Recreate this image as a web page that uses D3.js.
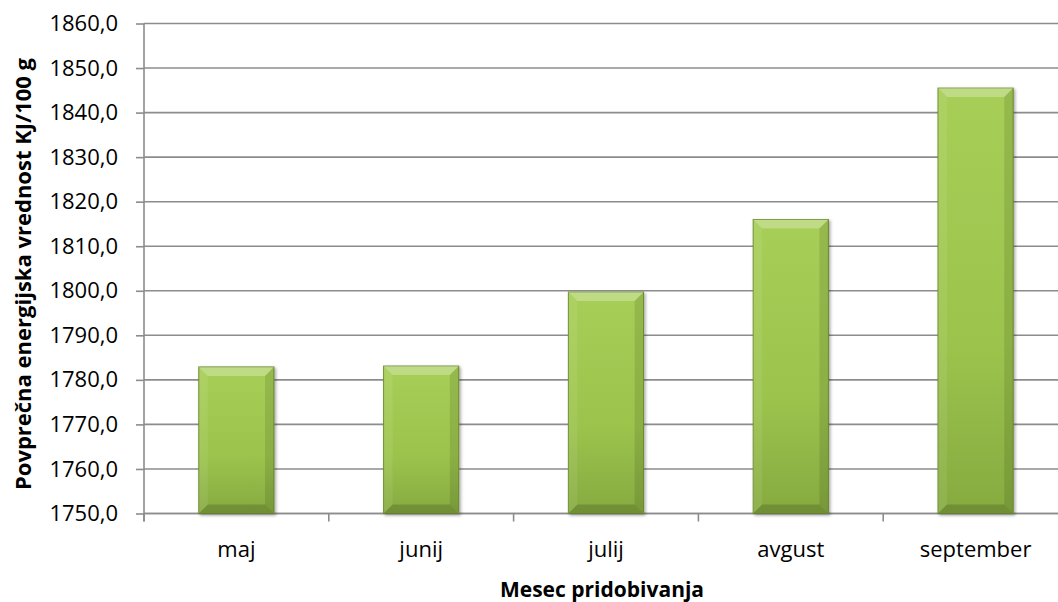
<!DOCTYPE html>
<html>
<head>
<meta charset="utf-8">
<script src="https://cdn.jsdelivr.net/npm/d3@7"></script>
<style>
  html, body { margin: 0; padding: 0; background: #ffffff; }
  svg { display: block; }
  text { font-family: "Open Sans", Lato, sans-serif; fill: #000; }
</style>
</head>
<body>
<svg id="chart" width="1058" height="602"></svg>
<script>
// Average energy value per harvest month
const months = ["maj", "junij", "julij", "avgust", "september"];
const energy = [1782.9, 1783.1, 1799.7, 1816.0, 1845.5];
const yTicks = [1750, 1760, 1770, 1780, 1790, 1800, 1810, 1820, 1830, 1840, 1850, 1860];
const yTitle = "Povprečna energijska vrednost KJ/100 g";
const xTitle = "Mesec pridobivanja";

const svg = d3.select("#chart");
const plot = { left: 144, right: 1068, top: 23.5, bottom: 513.5 };

const x = d3.scaleBand()
  .domain(months)
  .range([plot.left, plot.right])
  .paddingInner(0.593)
  .paddingOuter(0.2965);

const y = d3.scaleLinear()
  .domain([1750, 1860])
  .range([plot.bottom, plot.top]);

const fmt = v => d3.format(".1f")(v).replace(".", ",");

// defs: bar gradient and shadow
const defs = svg.append("defs");
const g1 = defs.append("linearGradient").attr("id", "barFill")
  .attr("x1", 0).attr("y1", 0).attr("x2", 0).attr("y2", 1);
g1.append("stop").attr("offset", "0%").attr("stop-color", "#a7ce56");
g1.append("stop").attr("offset", "60%").attr("stop-color", "#9cc44d");
g1.append("stop").attr("offset", "100%").attr("stop-color", "#86aa40");

const sh = defs.append("filter").attr("id", "shadow")
  .attr("x", "-20%").attr("y", "-20%").attr("width", "140%").attr("height", "140%");
sh.append("feDropShadow").attr("dx", 1.5).attr("dy", 1.5).attr("stdDeviation", 1.5)
  .attr("flood-color", "#000").attr("flood-opacity", 0.35);

// horizontal gridlines
svg.append("g")
  .selectAll("line")
  .data(yTicks)
  .join("line")
  .attr("x1", plot.left).attr("x2", plot.right)
  .attr("y1", d => y(d)).attr("y2", d => y(d))
  .attr("stroke", "#8c8c8c").attr("stroke-width", 1.6);

// y axis
const yAxis = svg.append("g")
  .attr("transform", `translate(${plot.left},0)`)
  .call(d3.axisLeft(y).tickValues(yTicks).tickFormat(fmt).tickSize(8).tickPadding(18));
yAxis.select(".domain").attr("stroke", "#8c8c8c").attr("stroke-width", 1.6)
  .attr("d", `M0,${plot.top}V${plot.bottom + 8}`);
yAxis.selectAll(".tick line").attr("stroke", "#8c8c8c").attr("stroke-width", 1.6);
yAxis.selectAll(".tick text").attr("font-size", 22).attr("fill", "#000")
  .style("font-family", "'Open Sans', Lato, sans-serif");

// x axis with ticks on category boundaries
const xAxis = svg.append("g").attr("transform", `translate(0,${plot.bottom})`);
xAxis.append("line")
  .attr("x1", plot.left).attr("x2", plot.right)
  .attr("stroke", "#8c8c8c").attr("stroke-width", 1.6);
const bounds = d3.range(months.length + 1).map(i => plot.left + i * x.step());
xAxis.selectAll("line.tk")
  .data(bounds)
  .join("line").attr("class", "tk")
  .attr("x1", d => d).attr("x2", d => d)
  .attr("y1", 0).attr("y2", 8)
  .attr("stroke", "#8c8c8c").attr("stroke-width", 1.6);
xAxis.selectAll("text")
  .data(months)
  .join("text")
  .attr("x", d => x(d) + x.bandwidth() / 2)
  .attr("y", 43)
  .attr("text-anchor", "middle")
  .attr("font-size", 22)
  .text(d => d);

// bars with bevelled faces
const bw = x.bandwidth();
const bev = 9;
const bars = svg.append("g").selectAll("g.bar")
  .data(months.map((m, i) => ({ m, v: energy[i] })))
  .join("g").attr("class", "bar");

bars.append("rect")
  .attr("x", d => x(d.m))
  .attr("y", d => y(d.v))
  .attr("width", bw)
  .attr("height", d => y(1750) - y(d.v))
  .attr("fill", "url(#barFill)")
  .attr("stroke", "#6f8d31")
  .attr("stroke-width", 1)
  .attr("filter", "url(#shadow)");

function face(d, which) {
  const x0 = x(d.m), x1 = x0 + bw, y0 = y(d.v), y1 = y(1750);
  const pts = {
    top:    [[x0, y0], [x1, y0], [x1 - bev, y0 + bev], [x0 + bev, y0 + bev]],
    left:   [[x0, y0], [x0 + bev, y0 + bev], [x0 + bev, y1 - bev], [x0, y1]],
    right:  [[x1, y0], [x1, y1], [x1 - bev, y1 - bev], [x1 - bev, y0 + bev]],
    bottom: [[x0, y1], [x0 + bev, y1 - bev], [x1 - bev, y1 - bev], [x1, y1]]
  }[which];
  return pts.map(p => p.join(",")).join(" ");
}
const faces = [
  { k: "top", fill: "#ffffff", op: 0.28 },
  { k: "left", fill: "#ffffff", op: 0.08 },
  { k: "right", fill: "#000000", op: 0.10 },
  { k: "bottom", fill: "#000000", op: 0.16 }
];
faces.forEach(f => {
  bars.append("polygon")
    .attr("points", d => face(d, f.k))
    .attr("fill", f.fill)
    .attr("fill-opacity", f.op);
});

// axis titles
svg.append("text")
  .attr("x", 602)
  .attr("y", 597)
  .attr("text-anchor", "middle")
  .attr("font-size", 21)
  .attr("font-weight", "bold")
  .text(xTitle);

svg.append("text")
  .attr("transform", `translate(31,274) rotate(-90)`)
  .attr("text-anchor", "middle")
  .attr("font-size", 22)
  .attr("font-weight", "bold")
  .text(yTitle);
</script>
</body>
</html>
